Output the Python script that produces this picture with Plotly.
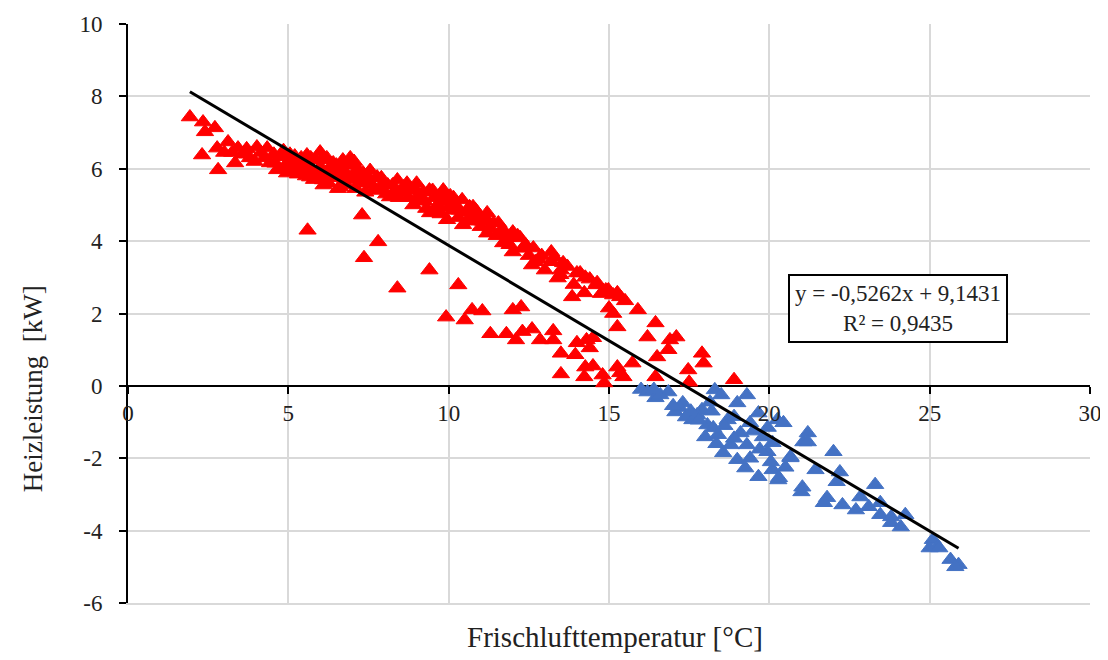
import plotly.graph_objects as go

# ---- data ----
red_x = [1.93, 2.34, 2.40, 2.71, 2.31, 2.78, 2.81, 3.12, 3.43, 3.34, 3.80, 4.02, 4.34, 4.43, 4.74, 4.65, 4.96, 5.37, 5.58, 5.99,
         5.68, 6.08, 6.40, 6.60, 6.70, 3.00, 3.60, 3.95, 4.15, 4.55, 4.85, 5.00, 5.10, 5.20, 5.30, 5.45, 5.50, 5.65, 5.75, 5.85,
         5.90, 6.00, 6.15, 6.20, 6.25, 6.30, 6.45, 6.50, 6.55, 6.75, 6.80, 6.90, 6.93, 7.00, 7.10, 7.15, 7.25, 7.33, 7.40, 7.50,
         7.60, 7.77, 7.85, 7.95, 8.05, 8.17, 8.25, 8.40, 8.50, 8.60, 8.75, 8.90, 8.95, 9.00, 9.10, 9.20, 9.30, 9.40, 9.42, 9.55,
         9.65, 9.75, 9.83, 9.90, 9.95, 10.05, 10.10, 10.20, 10.30, 10.42, 10.45, 10.55, 10.65, 10.76, 10.80, 10.90, 11.00, 11.14, 11.20, 11.20,
         11.40, 11.50, 11.60, 11.70, 11.70, 11.85, 12.00, 12.00, 12.23, 12.40, 12.64, 12.60, 12.70, 12.90, 13.20, 13.20, 13.40, 13.50, 13.57, 13.48,
         13.85, 14.00, 14.10, 14.23, 14.26, 14.60, 14.63, 14.90, 14.98, 15.13, 15.26, 15.35,
         3.25, 3.70, 4.25, 4.60, 4.90, 5.05, 5.15, 5.25, 5.40, 5.55, 5.70, 5.80, 5.95, 6.05, 6.10, 6.35, 6.40, 6.60, 6.65, 6.85,
         7.05, 7.20, 7.45, 7.55, 7.70, 7.90, 8.10, 8.30, 8.45, 8.70, 8.80, 9.05, 9.25, 9.50, 9.60, 9.80, 10.00, 10.15, 10.35, 10.60,
         10.85, 11.05, 11.30, 11.55, 11.90, 12.15, 12.30, 12.50, 12.80, 13.00, 13.30, 13.70, 13.90, 14.40, 14.75, 15.50, 15.00,
         5.60, 7.30, 7.80, 7.36, 8.40, 9.40, 10.30, 9.92, 10.50, 10.73, 11.05, 11.30, 11.80, 12.10, 12.00, 12.26, 12.30, 12.60, 12.85, 13.26,
         13.26, 13.50, 13.50, 13.95, 14.00, 14.30, 14.50, 14.40, 14.26, 14.23, 14.50, 14.80, 14.85, 15.26, 15.35, 15.45, 15.73, 15.13, 15.26, 15.90,
         16.45, 16.20, 16.90, 17.10, 16.50, 16.85, 16.45, 17.47, 17.90, 17.95, 18.90, 17.50]
red_y = [7.43, 7.29, 7.02, 7.13, 6.38, 6.57, 5.97, 6.74, 6.57, 6.16, 6.30, 6.60, 6.57, 6.16, 6.33, 5.97, 5.88, 6.05, 6.38, 6.46,
         5.77, 5.69, 6.16, 5.50, 6.24, 6.45, 6.40, 6.20, 6.45, 6.40, 6.50, 6.20, 6.00, 6.35, 5.85, 6.20, 5.95, 6.10, 5.90, 6.25,
         5.75, 6.05, 5.85, 6.30, 5.60, 6.00, 5.80, 6.10, 5.45, 5.90, 5.55, 6.10, 6.30, 5.75, 5.45, 6.00, 5.65, 5.88, 5.35, 5.75,
         5.55, 5.77, 5.40, 5.60, 5.30, 5.22, 5.55, 5.69, 5.35, 5.50, 5.20, 5.00, 5.45, 5.60, 5.15, 5.35, 4.90, 5.41, 4.78, 5.20,
         5.00, 4.75, 5.41, 5.10, 4.59, 5.25, 4.85, 5.00, 4.65, 5.14, 4.45, 4.80, 4.95, 4.95, 4.55, 4.70, 4.40, 4.64, 4.22, 4.78,
         4.50, 4.15, 4.25, 4.31, 3.95, 4.10, 4.25, 3.70, 4.09, 3.90, 3.81, 3.34, 3.43, 3.60, 3.70, 3.43, 2.98, 3.20, 3.40, 3.07,
         2.46, 3.12, 3.12, 2.57, 3.00, 2.79, 2.85, 2.65, 2.65, 2.51, 2.57, 2.46,
         6.45, 6.55, 6.30, 6.15, 6.05, 6.40, 6.15, 5.95, 6.30, 5.80, 6.30, 5.70, 5.95, 6.25, 5.55, 5.75, 5.95, 5.85, 6.05, 5.70,
         6.20, 5.85, 5.60, 5.95, 5.45, 5.75, 5.55, 5.35, 5.20, 5.60, 5.40, 5.25, 5.10, 5.40, 4.85, 5.25, 4.95, 5.20, 4.85, 4.60,
         4.85, 4.55, 4.35, 4.50, 3.90, 4.15, 3.80, 3.60, 3.50, 3.20, 3.55, 3.30, 2.80, 2.95, 2.55, 2.35, 2.15,
         4.30, 4.72, 3.98, 3.54, 2.70, 3.20, 2.79, 1.90, 1.82, 2.10, 2.07, 1.44, 1.44, 1.27, 2.10, 2.18, 1.50, 1.57, 1.27, 1.52,
         1.27, 0.90, 0.33, 0.86, 1.19, 1.27, 1.33, 1.05, 0.52, 0.25, 0.55, 0.30, 0.08, 0.52, 0.36, 0.25, 0.63, 2.00, 1.63, 2.10,
         1.74, 1.35, 1.27, 1.35, 0.80, 1.00, 0.25, 0.44, 0.90, 0.63, 0.17, 0.10]

blue_x = [16.00, 16.20, 16.45, 16.85, 17.30, 17.07, 17.40, 17.60, 17.90, 18.07, 18.30, 18.50, 18.25, 18.40, 18.00, 18.70, 19.00, 19.30, 19.10, 18.80,
          18.56, 19.30, 19.40, 19.66, 19.80, 19.94, 20.10, 20.25, 19.00, 19.25, 19.66, 20.10, 20.28, 20.66, 21.06, 21.03, 20.44, 20.66, 20.30, 21.20,
          21.20, 21.44, 21.00, 22.00, 22.20, 22.10, 21.80, 21.70, 22.28, 22.70, 22.84, 23.30, 23.10, 23.46, 23.46, 23.80, 24.10, 24.24, 23.80, 25.10,
          25.24, 25.00, 25.30, 25.65, 25.90, 25.80, 17.20, 17.75, 18.15, 18.60, 18.90, 19.50, 19.95, 20.05, 17.55, 18.35,
          16.60, 17.00, 17.80, 18.20, 18.90, 19.70, 20.50, 19.40, 16.40]
blue_y = [-0.10, -0.17, -0.33, -0.17, -0.47, -0.72, -0.86, -0.94, -0.66, -1.08, -0.11, -0.25, -1.16, -1.35, -1.41, -0.94, -0.47, -0.25, -1.30, -1.63,
          -1.85, -1.63, -1.02, -0.75, -1.41, -1.82, -1.57, -0.94, -2.04, -2.27, -2.51, -2.32, -2.60, -1.96, -1.55, -2.80, -1.02, -1.99, -2.54, -1.30,
          -1.55, -2.32, -2.93, -1.82, -2.38, -2.65, -3.09, -3.23, -3.29, -3.43, -3.07, -2.73, -3.34, -3.23, -3.56, -3.62, -3.90, -3.56, -3.78, -4.25,
          -4.45, -4.48, -4.48, -4.80, -4.94, -5.00, -0.60, -0.80, -0.45, -1.10, -0.85, -1.25, -1.15, -2.10, -0.70, -1.60,
          -0.25, -0.55, -0.95, -0.70, -1.45, -1.75, -2.25, -2.00, -0.10]

slope = -0.5262
intercept = 9.1431
trend_label = "y = -0,5262x + 9,1431<br>R² = 0,9435"

x_ticks = [0, 5, 10, 15, 20, 25, 30]
x_tick_text = ["0", "5", "10", "15", "20", "25", "30"]
y_ticks = [-6, -4, -2, 0, 2, 4, 6, 8, 10]
y_tick_text = ["-6", "-4", "-2", "0", "2", "4", "6", "8", "10"]

x_title = "Frischlufttemperatur [°C]"
y_title = "Heizleistung  [kW]"

FONT = "Liberation Serif"
RED = "#ff0000"
BLUE = "#4472c4"
GRID = "#d9d9d9"
TXT = "#222222"

all_x = red_x + blue_x
tx = [min(all_x), max(all_x)]
ty = [slope * v + intercept for v in tx]

fig = go.Figure()
fig.add_trace(go.Scatter(x=red_x, y=red_y, mode="markers", xaxis="x", yaxis="y",
                         marker=dict(symbol="triangle-up", size=15, color=RED,
                                     line=dict(color=RED, width=1)), showlegend=False))
fig.add_trace(go.Scatter(x=blue_x, y=blue_y, mode="markers", xaxis="x", yaxis="y",
                         marker=dict(symbol="triangle-up", size=15, color=BLUE,
                                     line=dict(color=BLUE, width=1)), showlegend=False))
fig.add_trace(go.Scatter(x=tx, y=ty, mode="lines", xaxis="x2", yaxis="y",
                         line=dict(color="black", width=3), showlegend=False))

fig.update_layout(
    width=1100, height=652,
    margin=dict(l=120, r=18, t=16, b=57, autoexpand=False),
    paper_bgcolor="white", plot_bgcolor="white",
    font=dict(family=FONT, size=22, color=TXT),
    xaxis=dict(range=[0, 30], tickvals=x_ticks, showgrid=True, gridcolor=GRID, gridwidth=2,
               showticklabels=False, ticks="", showline=True, linecolor=GRID, linewidth=2,
               zeroline=False),
    xaxis2=dict(range=[0, 30], tickvals=x_ticks, ticktext=x_tick_text, overlaying="x",
                anchor="free", position=0.375,
                showgrid=False, showline=False, zeroline=False, ticks="outside", ticklen=7,
                tickwidth=2, tickcolor="black", side="bottom",
                tickfont=dict(family=FONT, size=23, color=TXT)),
    yaxis=dict(range=[-6, 10], tickvals=y_ticks, ticktext=y_tick_text, showgrid=True,
               gridcolor=GRID, gridwidth=2,
               showline=True, linecolor="black", linewidth=2, ticks="outside", ticklen=7,
               tickwidth=2, tickcolor="black", zeroline=True, zerolinecolor="black",
               zerolinewidth=2, ticklabelstandoff=12,
               tickfont=dict(family=FONT, size=23, color=TXT)),
    annotations=[
        dict(text=trend_label, xref="paper", yref="paper", x=0.8, y=0.508,
             xanchor="center", yanchor="middle", showarrow=False, align="center",
             bordercolor="black", borderwidth=2, borderpad=5, bgcolor="white",
             font=dict(family=FONT, size=23, color=TXT)),
        dict(text=x_title, xref="paper", yref="paper", x=0.506, y=-0.0587,
             xanchor="center", yanchor="middle", showarrow=False,
             font=dict(family=FONT, size=29, color=TXT)),
        dict(text=y_title, xref="paper", yref="paper", x=-0.0988, y=0.371,
             xanchor="center", yanchor="middle", showarrow=False, textangle=-90,
             font=dict(family=FONT, size=27, color=TXT)),
    ],
)

fig.write_html("out.html")
